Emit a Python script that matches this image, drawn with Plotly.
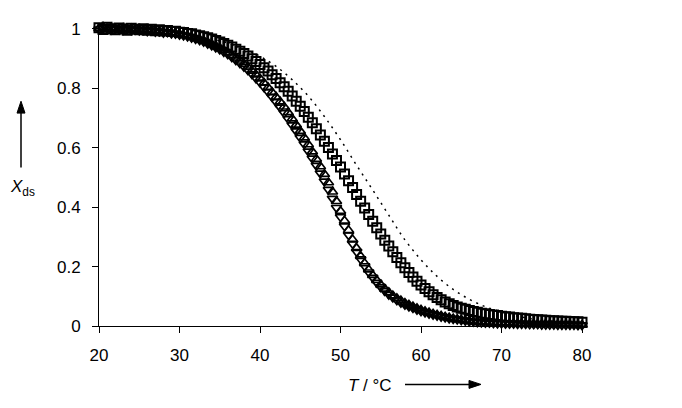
import plotly.graph_objects as go

# Temperatur-Raster (°C), 0.5er Schritte
temp = [20.0, 20.5, 21.0, 21.5, 22.0, 22.5, 23.0, 23.5, 24.0, 24.5,
        25.0, 25.5, 26.0, 26.5, 27.0, 27.5, 28.0, 28.5, 29.0, 29.5,
        30.0, 30.5, 31.0, 31.5, 32.0, 32.5, 33.0, 33.5, 34.0, 34.5,
        35.0, 35.5, 36.0, 36.5, 37.0, 37.5, 38.0, 38.5, 39.0, 39.5,
        40.0, 40.5, 41.0, 41.5, 42.0, 42.5, 43.0, 43.5, 44.0, 44.5,
        45.0, 45.5, 46.0, 46.5, 47.0, 47.5, 48.0, 48.5, 49.0, 49.5,
        50.0, 50.5, 51.0, 51.5, 52.0, 52.5, 53.0, 53.5, 54.0, 54.5,
        55.0, 55.5, 56.0, 56.5, 57.0, 57.5, 58.0, 58.5, 59.0, 59.5,
        60.0, 60.5, 61.0, 61.5, 62.0, 62.5, 63.0, 63.5, 64.0, 64.5,
        65.0, 65.5, 66.0, 66.5, 67.0, 67.5, 68.0, 68.5, 69.0, 69.5,
        70.0, 70.5, 71.0, 71.5, 72.0, 72.5, 73.0, 73.5, 74.0, 74.5,
        75.0, 75.5, 76.0, 76.5, 77.0, 77.5, 78.0, 78.5, 79.0, 79.5,
        80.0]

# Quadrate
x_squares = [1.004, 0.998, 1.006, 1.001, 0.997, 1.003, 1.000, 0.996, 1.002, 0.999,
             0.997, 1.001, 0.996, 0.999, 0.994, 0.997, 0.993, 0.995, 0.991, 0.992,
             0.989, 0.988, 0.985, 0.984, 0.980, 0.977, 0.974, 0.970, 0.966, 0.961,
             0.956, 0.951, 0.945, 0.939, 0.932, 0.925, 0.917, 0.909, 0.900, 0.890,
             0.880, 0.869, 0.858, 0.846, 0.833, 0.819, 0.805, 0.790, 0.774, 0.757,
             0.740, 0.722, 0.703, 0.684, 0.664, 0.643, 0.622, 0.601, 0.579, 0.557,
             0.535, 0.512, 0.489, 0.466, 0.443, 0.420, 0.397, 0.375, 0.353, 0.331,
             0.310, 0.289, 0.269, 0.250, 0.231, 0.213, 0.196, 0.180, 0.165, 0.151,
             0.138, 0.126, 0.115, 0.105, 0.096, 0.088, 0.081, 0.075, 0.069, 0.064,
             0.060, 0.056, 0.052, 0.049, 0.046, 0.043, 0.041, 0.039, 0.037, 0.035,
             0.033, 0.031, 0.030, 0.028, 0.027, 0.026, 0.024, 0.023, 0.022, 0.021,
             0.020, 0.019, 0.018, 0.018, 0.017, 0.016, 0.016, 0.015, 0.014, 0.014,
             0.013]

# Dreiecke
x_tri_up = [1.002, 1.007, 0.999, 1.004, 1.000, 0.996, 1.003, 0.998, 1.001, 0.995,
            0.999, 0.994, 0.997, 0.992, 0.994, 0.990, 0.991, 0.987, 0.988, 0.984,
            0.983, 0.979, 0.977, 0.973, 0.969, 0.965, 0.960, 0.955, 0.949, 0.943,
            0.936, 0.929, 0.921, 0.912, 0.903, 0.893, 0.882, 0.871, 0.859, 0.846,
            0.833, 0.818, 0.803, 0.787, 0.771, 0.755, 0.738, 0.719, 0.698, 0.677,
            0.656, 0.634, 0.611, 0.587, 0.562, 0.537, 0.511, 0.483, 0.452, 0.420,
            0.387, 0.354, 0.322, 0.291, 0.262, 0.235, 0.211, 0.190, 0.171, 0.154,
            0.139, 0.125, 0.113, 0.102, 0.093, 0.085, 0.077, 0.071, 0.065, 0.059,
            0.054, 0.049, 0.045, 0.041, 0.037, 0.034, 0.031, 0.028, 0.025, 0.023,
            0.021, 0.019, 0.017, 0.015, 0.014, 0.013, 0.012, 0.011, 0.011, 0.010,
            0.010, 0.009, 0.009, 0.008, 0.008, 0.008, 0.007, 0.007, 0.007, 0.006,
            0.006, 0.006, 0.006, 0.005, 0.005, 0.005, 0.005, 0.005, 0.004, 0.004,
            0.004]

x_tri_down = [0.999, 1.003, 1.005, 0.998, 1.002, 0.999, 0.997, 1.001, 0.996, 0.998,
              0.995, 0.997, 0.993, 0.995, 0.991, 0.992, 0.988, 0.989, 0.985, 0.984,
              0.981, 0.978, 0.975, 0.971, 0.967, 0.962, 0.957, 0.951, 0.945, 0.938,
              0.931, 0.923, 0.915, 0.905, 0.895, 0.885, 0.873, 0.861, 0.848, 0.834,
              0.820, 0.804, 0.788, 0.771, 0.754, 0.736, 0.717, 0.697, 0.676, 0.656,
              0.634, 0.612, 0.588, 0.564, 0.540, 0.514, 0.487, 0.459, 0.429, 0.398,
              0.367, 0.336, 0.306, 0.277, 0.250, 0.225, 0.202, 0.181, 0.163, 0.146,
              0.131, 0.118, 0.106, 0.096, 0.087, 0.079, 0.072, 0.066, 0.061, 0.055,
              0.050, 0.046, 0.042, 0.038, 0.035, 0.032, 0.029, 0.026, 0.024, 0.022,
              0.020, 0.018, 0.016, 0.015, 0.013, 0.012, 0.011, 0.011, 0.010, 0.009,
              0.009, 0.008, 0.008, 0.008, 0.007, 0.007, 0.007, 0.006, 0.006, 0.006,
              0.005, 0.005, 0.005, 0.005, 0.004, 0.004, 0.004, 0.004, 0.004, 0.003,
              0.003]

# gepunktete Kurve
temp_fit = [20, 25, 30, 32, 34, 36, 38, 40, 42, 44, 46, 48, 50, 52, 54, 56,
            58, 60, 62, 64, 66, 68, 70, 72, 74, 76, 78, 80]
x_fit = [0.997, 0.993, 0.983, 0.976, 0.966, 0.953, 0.934, 0.908, 0.874, 0.829,
         0.774, 0.705, 0.627, 0.541, 0.458, 0.373, 0.290, 0.223, 0.167, 0.123,
         0.090, 0.065, 0.047, 0.033, 0.023, 0.017, 0.012, 0.008]

x_ticks = [20, 30, 40, 50, 60, 70, 80]
y_ticks = [0, 0.2, 0.4, 0.6, 0.8, 1]
y_ticktext = ["0", "0.2", "0.4", "0.6", "0.8", "1"]

FONT = "Liberation Sans, Arial, sans-serif"

# Plotbereich in Pixeln (Seite hat 8px Rand)
L, T, W, H = 91, 12, 483, 306


def px(xp):
    return (xp - 8 - L) / W


def py(yp):
    return (T + H - (yp - 8)) / H


def arrow_shapes(x0, y0, x1, y1, head=12, half=4):
    # Linie plus gefüllte Spitze, Koordinaten in Bildpixeln
    dx, dy = x1 - x0, y1 - y0
    n = (dx * dx + dy * dy) ** 0.5
    ux, uy = dx / n, dy / n
    bx, by = x1 - ux * head, y1 - uy * head
    p1 = (bx - uy * half, by + ux * half)
    p2 = (bx + uy * half, by - ux * half)
    line = dict(type="line", xref="paper", yref="paper",
                x0=px(x0), y0=py(y0), x1=px(bx), y1=py(by),
                line=dict(color="black", width=1.5))
    tip = dict(type="path", xref="paper", yref="paper",
               path=f"M {px(x1)},{py(y1)} L {px(p1[0])},{py(p1[1])} "
                    f"L {px(p2[0])},{py(p2[1])} Z",
               fillcolor="black", line=dict(color="black", width=1))
    return [line, tip]


fig = go.Figure()

fig.add_trace(go.Scatter(
    x=temp_fit, y=x_fit, mode="lines", line_shape="spline",
    line=dict(color="black", width=1.5, dash="2px,5px"),
    showlegend=False, cliponaxis=False,
))
fig.add_trace(go.Scatter(
    x=temp, y=x_tri_down, mode="markers",
    marker=dict(symbol="triangle-down-open", size=9, color="black", line=dict(width=1.7)),
    showlegend=False, cliponaxis=False,
))
fig.add_trace(go.Scatter(
    x=temp, y=x_tri_up, mode="markers",
    marker=dict(symbol="triangle-up-open", size=9, color="black", line=dict(width=1.7)),
    showlegend=False, cliponaxis=False,
))
fig.add_trace(go.Scatter(
    x=temp, y=x_squares, mode="markers",
    marker=dict(symbol="square-open", size=9, color="black", line=dict(width=2)),
    showlegend=False, cliponaxis=False,
))

fig.update_layout(
    width=674, height=400,
    margin=dict(l=L, r=674 - L - W, t=T, b=400 - T - H),
    paper_bgcolor="white", plot_bgcolor="white",
    font=dict(family=FONT, size=17, color="black"),
    shapes=arrow_shapes(405, 385, 481, 385) + arrow_shapes(21, 166, 21, 99),
)
fig.update_xaxes(
    range=[20, 80], tickvals=x_ticks, ticks="outside", ticklen=6, tickwidth=1,
    tickcolor="black", showline=True, linecolor="black", linewidth=1,
    showgrid=False, zeroline=False, ticklabelstandoff=8,
)
fig.update_yaxes(
    range=[0, 1.02], tickvals=y_ticks, ticktext=y_ticktext, ticks="outside",
    ticklen=6, tickwidth=1, tickcolor="black", showline=True, linecolor="black",
    linewidth=1, showgrid=False, zeroline=False, ticklabelstandoff=8,
)

# Achsentitel
fig.add_annotation(text="<i>T</i> / °C", xref="paper", yref="paper",
                   x=px(370), y=py(386), xanchor="center", yanchor="middle",
                   showarrow=False, font=dict(size=17, color="black"))
fig.add_annotation(text="<i>X</i><sub>ds</sub>", xref="paper", yref="paper",
                   x=px(22), y=py(187), xanchor="center", yanchor="middle",
                   showarrow=False, font=dict(size=17, color="black"))

fig.write_html("out.html")
